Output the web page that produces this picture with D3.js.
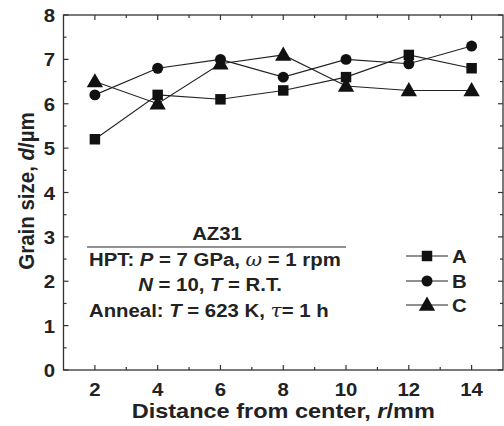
<!DOCTYPE html>
<html lang="en">
<head>
<meta charset="UTF-8">
<title>Grain size vs distance</title>
<script src="https://cdnjs.cloudflare.com/ajax/libs/d3/7.8.5/d3.min.js"></script>
<style>
    * { margin: 0; padding: 0; }
    body { background: #fff; width: 504px; height: 426px; overflow: hidden; }
    svg { display: block; font-family: "Liberation Sans", Arial, sans-serif; font-weight: bold; }
</style>
</head>
<body>
<div id="plot"></div>
<script>
    // Data
    const distance = [2, 4, 6, 8, 10, 12, 14];
    const seriesA = [5.2, 6.2, 6.1, 6.3, 6.6, 7.1, 6.8];
    const seriesB = [6.2, 6.8, 7.0, 6.6, 7.0, 6.9, 7.3];
    const seriesC = [6.5, 6.0, 6.9, 7.1, 6.4, 6.3, 6.3];
    const seriesNames = ["A", "B", "C"];
    const xTicks = [2, 4, 6, 8, 10, 12, 14];
    const yTicks = [0, 1, 2, 3, 4, 5, 6, 7, 8];

    const width = 504, height = 426;
    const svg = d3.select("#plot").append("svg")
        .attr("width", width).attr("height", height);

    const x = d3.scaleLinear().domain([1, 15]).range([63.5, 503]);
    const y = d3.scaleLinear().domain([0, 8]).range([370, 15]);
    const ink = "#222";
    const sx = 1.1; // glyphs in the original look slightly wide

    // text placed at (px,py) with a small horizontal stretch
    function wideText(parent, px, py, size, stretch) {
        return parent.append("text")
            .attr("transform", `translate(${px},${py}) scale(${stretch || sx},1)`)
            .attr("font-size", size).attr("fill", ink);
    }

    // frame
    svg.append("rect")
        .attr("x", x(1)).attr("y", y(8))
        .attr("width", x(15) - x(1)).attr("height", y(0) - y(8))
        .attr("fill", "none").attr("stroke", "#333").attr("stroke-width", 1.3);

    // inward ticks
    const xMinor = d3.range(3, 15, 2);
    const yMinor = d3.range(0.5, 8, 1);
    const tickG = svg.append("g").attr("stroke", "#333").attr("stroke-width", 1.2);
    xTicks.forEach(v => {
        tickG.append("line").attr("x1", x(v)).attr("x2", x(v)).attr("y1", y(0)).attr("y2", y(0) - 5);
        tickG.append("line").attr("x1", x(v)).attr("x2", x(v)).attr("y1", y(8)).attr("y2", y(8) + 5);
    });
    xMinor.forEach(v => {
        tickG.append("line").attr("x1", x(v)).attr("x2", x(v)).attr("y1", y(0)).attr("y2", y(0) - 3);
        tickG.append("line").attr("x1", x(v)).attr("x2", x(v)).attr("y1", y(8)).attr("y2", y(8) + 3);
    });
    yTicks.forEach(v => {
        tickG.append("line").attr("x1", x(1)).attr("x2", x(1) + 5).attr("y1", y(v)).attr("y2", y(v));
        tickG.append("line").attr("x1", x(15)).attr("x2", x(15) - 5).attr("y1", y(v)).attr("y2", y(v));
    });
    yMinor.forEach(v => {
        tickG.append("line").attr("x1", x(1)).attr("x2", x(1) + 3).attr("y1", y(v)).attr("y2", y(v));
        tickG.append("line").attr("x1", x(15)).attr("x2", x(15) - 3).attr("y1", y(v)).attr("y2", y(v));
    });

    // tick labels
    const tl = svg.append("g");
    xTicks.forEach(v => wideText(tl, x(v), 396, 18.5).attr("text-anchor", "middle").text(v));
    yTicks.forEach(v => wideText(tl, 55, y(v) + 7, 18.5).attr("text-anchor", "end").text(v));

    // axis titles
    const xt = wideText(svg, x(8), 418, 21, 1.12).attr("text-anchor", "middle");
    xt.append("tspan").text("Distance from center, ");
    xt.append("tspan").attr("font-style", "italic").text("r");
    xt.append("tspan").text("/mm");

    const yt = svg.append("text")
        .attr("transform", `translate(34,191) scale(${sx},1) rotate(-90)`)
        .attr("text-anchor", "middle").attr("font-size", 20.5).attr("fill", ink);
    yt.append("tspan").text("Grain size, ");
    yt.append("tspan").attr("font-style", "italic").text("d");
    yt.append("tspan").text("/\u00b5m");

    // series
    const series = [seriesA, seriesB, seriesC];
    const symbols = [d3.symbolSquare, d3.symbolCircle, d3.symbolTriangle];
    const sizes = [110, 95, 115];
    const line = d3.line().x((d, i) => x(distance[i])).y(d => y(d));

    series.forEach(s => {
        svg.append("path").datum(s).attr("d", line)
            .attr("fill", "none").attr("stroke", ink).attr("stroke-width", 1.1);
    });
    series.forEach((s, k) => {
        svg.append("g").selectAll("path").data(s).join("path")
            .attr("transform", (d, i) => `translate(${x(distance[i])},${y(d) + (k === 2 ? 1 : 0)})`)
            .attr("d", d3.symbol(symbols[k], sizes[k]))
            .attr("fill", "#111");
    });

    // legend
    const legY = [256, 281, 305];
    seriesNames.forEach((name, k) => {
        const g = svg.append("g").attr("transform", `translate(0,${legY[k]})`);
        g.append("line").attr("x1", 406).attr("x2", 448).attr("y1", 0).attr("y2", 0)
            .attr("stroke", ink).attr("stroke-width", 1.1);
        g.append("path").attr("transform", `translate(427,${k === 2 ? 1 : 0})`)
            .attr("d", d3.symbol(symbols[k], sizes[k])).attr("fill", "#111");
        wideText(g, 452, 7, 18.5).text(name);
    });

    // annotation
    const ann = svg.append("g");
    wideText(ann, 217, 240, 18.5).attr("text-anchor", "middle").text("AZ31");
    ann.append("line").attr("x1", 87).attr("x2", 346).attr("y1", 247).attr("y2", 247)
        .attr("stroke", ink).attr("stroke-width", 1);
    const l1 = wideText(ann, 89, 266, 18.5);
    l1.append("tspan").text("HPT: ");
    l1.append("tspan").attr("font-style", "italic").text("P");
    l1.append("tspan").text(" = 7 GPa,  ");
    l1.append("tspan").attr("font-style", "italic").attr("font-family", "'DejaVu Serif', serif").attr("font-weight", "normal").text("\u03c9");
    l1.append("tspan").text(" = 1 rpm");
    const l2 = wideText(ann, 210, 291, 18.5).attr("text-anchor", "middle");
    l2.append("tspan").attr("font-style", "italic").text("N");
    l2.append("tspan").text(" = 10, ");
    l2.append("tspan").attr("font-style", "italic").text("T");
    l2.append("tspan").text(" = R.T.");
    const l3 = wideText(ann, 89, 317, 18.5);
    l3.append("tspan").text("Anneal: ");
    l3.append("tspan").attr("font-style", "italic").text("T");
    l3.append("tspan").text(" = 623 K, ");
    l3.append("tspan").attr("font-style", "italic").attr("font-family", "'DejaVu Serif', serif").attr("font-weight", "normal").text("\u03c4");
    l3.append("tspan").text("= 1 h");
</script>
</body>
</html>
